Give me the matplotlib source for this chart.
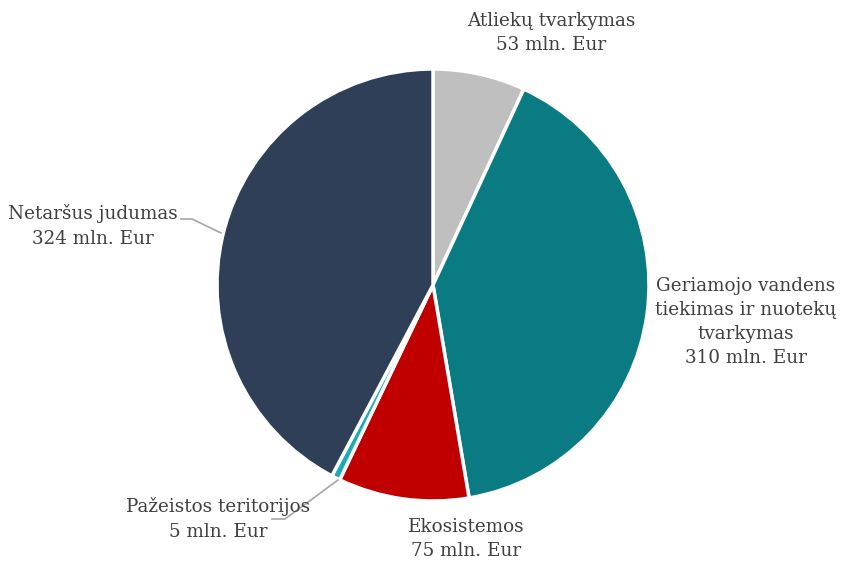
import matplotlib
matplotlib.use('Agg')
import matplotlib.pyplot as plt

labels = ['Atliekų tvarkymas', 'Geriamojo vandens\ntiekimas ir nuotekų\ntvarkymas',
          'Ekosistemos', 'Pažeistos teritorijos', 'Netaršus judumas']
values = [53, 310, 75, 5, 324]
colors = ['#BFBFBF', '#0B7B83', '#C00000', '#1AAAB8', '#2E3F57']

plt.rcParams['font.family'] = ['DejaVu Serif']
text_color = '#404040'
H = 561


def py(y):
    # pixel row (from top) -> data y
    return H - y


fig = plt.figure(figsize=(8.55, 5.61), dpi=100)
ax = fig.add_axes([0, 0, 1, 1])

wedges, _ = ax.pie(values, colors=colors, startangle=90, counterclock=False,
                   center=(433, py(285)), radius=216,
                   wedgeprops=dict(edgecolor='white', linewidth=2.5))
ax.set_xlim(0, 855)
ax.set_ylim(0, H)
ax.set_aspect('equal')
ax.axis('off')

# label positions (pixel coords)
label_pos = [(551, 33), (746, 322), (466, 539), (218, 519), (93, 226)]
for lab, val, (x, y) in zip(labels, values, label_pos):
    ax.text(x, py(y), '{}\n{} mln. Eur'.format(lab, val), ha='center', va='center',
            fontsize=13.2, color=text_color, linespacing=1.45)

# leader lines
ax.plot([181, 192, 221], [py(219), py(219), py(233)], color='#A6A6A6', lw=1.2)
ax.plot([272, 285, 338], [py(519), py(519), py(480)], color='#A6A6A6', lw=1.2)

fig.savefig('out.png', dpi=100)
